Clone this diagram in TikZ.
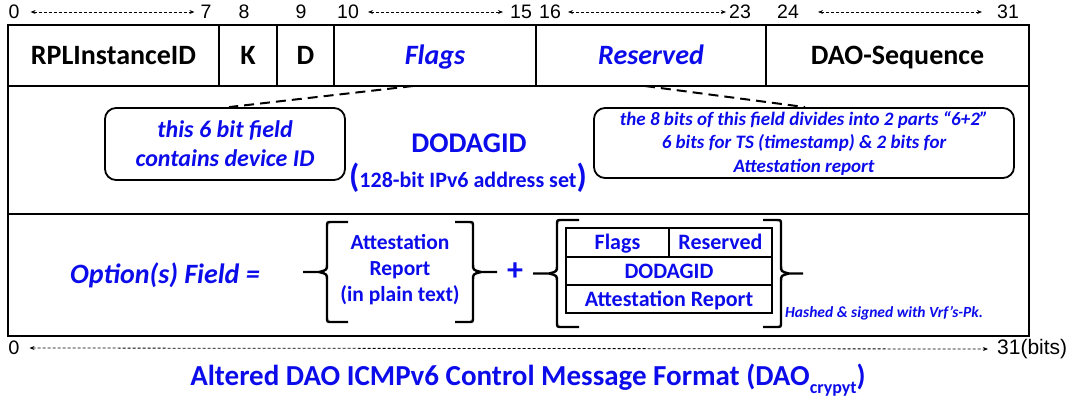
\documentclass[tikz,border=0pt]{standalone}
\usepackage{fontspec}
\setmainfont{Carlito}
\newfontfamily\arialf{Liberation Sans}
\usetikzlibrary{arrows.meta,calc}
\definecolor{tblue}{RGB}{12,12,235}
\newcommand\fs[1]{\fontsize{#1}{#1}\selectfont}
% curly bracket: #1 spine x, #2 top y, #3 bottom y, #4 hook end x, #5 tip x, #6 +1 (opens right) / -1 (opens left)
\newcommand\drawBrk[6]{%
  \draw[brk] (#4,#2) -- ({#1+5*#6},#2) .. controls (#1,#2) .. (#1,{#2+5})
     -- (#1,{(#2+#3)/2-8}) .. controls (#1,{(#2+#3)/2-2}) .. ({#1-8*#6},{(#2+#3)/2}) -- (#5,{(#2+#3)/2});
  \draw[brk] ({#1-8*#6},{(#2+#3)/2}) .. controls (#1,{(#2+#3)/2+2}) .. (#1,{(#2+#3)/2+8})
     -- (#1,{#3-5}) .. controls (#1,#3) .. ({#1+5*#6},#3) -- (#4,#3);
}
\begin{document}
\begin{tikzpicture}[x=1pt,y=-1pt,
  cell/.style={draw, line width=2.4pt, inner sep=0pt, outer sep=0pt, anchor=north west},
  hcell/.style={cell, minimum height=61pt, text height=18pt, text depth=0pt},
  sub/.style={draw, line width=2.8pt, inner sep=0pt, outer sep=0pt, anchor=north west,
              font=\bfseries\fs{22}, text=tblue, text height=14pt, text depth=0pt},
  hdr/.style={font=\bfseries\fs{28}},
  fld/.style={font=\bfseries\itshape\fs{28}, text=tblue},
  bitno/.style={font=\arialf\fs{19.5}, inner sep=0pt},
  bitarrow/.style={line width=0.8pt, dash pattern=on 3pt off 2pt,
                   {Stealth[length=5pt,width=4pt]}-{Stealth[length=5pt,width=4pt]}},
  callout/.style={draw, line width=1.8pt, rounded corners=11pt, inner sep=0pt,
                  align=center, text=tblue},
  lead/.style={line width=2pt, dash pattern=on 10pt off 6pt},
  brk/.style={line width=2.4pt},
  note/.style={font=\bfseries\fs{22}, text=tblue, align=center, inner sep=0pt}
]
\useasboundingbox (0,0) rectangle (1075,407);

% bit positions above the header row
\node[bitno] (t0)  at (14,12)   {0};
\node[bitno] (t7)  at (206,12)  {7};
\node[bitno] (t8)  at (244,12)  {8};
\node[bitno] (t9)  at (301,12)  {9};
\node[bitno] (t10) at (348,12)  {10};
\node[bitno] (t15) at (521,12)  {15};
\node[bitno] (t16) at (550,12)  {16};
\node[bitno] (t23) at (740,12)  {23};
\node[bitno] (t24) at (788,12)  {24};
\node[bitno] (t31) at (1008,12) {31};
\draw[bitarrow] ([xshift=11pt]t0.east)  -- ([xshift=-6pt]t7.west);
\draw[bitarrow] ([xshift=9pt]t10.east)  -- ([xshift=-7pt]t15.west);
\draw[bitarrow] ([xshift=7pt]t16.east)  -- ([xshift=-3pt]t23.west);
\draw[bitarrow] ([xshift=19pt]t24.east) -- ([xshift=-15pt]t31.west);

% header row
\node[hcell, hdr, minimum width=211pt] (rpl)   at (8,25)   {RPLInstanceID};
\node[hcell, hdr, minimum width=58pt]  (kf)    at (219,25) {K};
\node[hcell, hdr, minimum width=57pt]  (df)    at (277,25) {D};
\node[hcell, fld, minimum width=202pt] (flags) at (334,25) {Flags};
\node[hcell, fld, minimum width=230pt] (resv)  at (536,25) {Reserved};
\node[hcell, hdr, minimum width=263pt] (seq)   at (766,25) {DAO-Sequence};

% DODAGID row and options row
\node[cell, minimum width=1021pt, minimum height=128pt] (dodrow) at (8,86) {};
\node[cell, line width=2.8pt, minimum width=1021pt, minimum height=122pt] (optrow) at (8,214) {};

% DODAGID row contents
\node[callout, font=\bfseries\itshape\fontsize{24}{29}\selectfont,
      minimum width=240pt, minimum height=72pt] (callL) at (225,144)
      {this 6 bit field\\contains device ID};
\node[callout, font=\bfseries\itshape\fontsize{19}{23.5}\selectfont,
      minimum width=420pt, minimum height=70pt] (callR) at (804,143)
      {the 8 bits of this field divides into 2 parts “6+2”\\6 bits for TS (timestamp) \& 2 bits for\\Attestation report};
\node[font=\bfseries\fs{28.5}, text=tblue, inner sep=0pt] (dodagid) at (469,143) {DODAGID};
\node[font=\bfseries\fs{22}, text=tblue, inner sep=0pt] (ipv6) at (468,178)
      {{\fs{33}(}128-bit IPv6 address set{\fs{33})}};
\draw[lead] ([xshift=-22pt]flags.south) -- ([xshift=4pt]callL.north);
\draw[lead] ([xshift=-6pt]resv.south)   -- ([xshift=1pt]callR.north);

% options row contents
\node[fld, inner sep=0pt] (opt) at (165,275) {Option(s) Field =};
\drawBrk{327}{222}{322}{348}{303}{1}
\node[note, font=\bfseries\fontsize{21.5}{26}\selectfont] (plain) at (400,270)
      {Attestation\\Report\\(in plain text)};
\drawBrk{473}{222}{322}{455}{497}{-1}
\node[font=\bfseries\fs{32}, text=tblue, inner sep=0pt] (plus) at (515,272) {+};
\drawBrk{557}{220}{327}{579}{533}{1}
\node[sub, minimum width=103pt, minimum height=29pt] (sflags) at (566,228) {Flags};
\node[sub, minimum width=103pt, minimum height=29pt] (sresv)  at (669,228) {Reserved};
\node[sub, minimum width=206pt, minimum height=28pt] (sdod)   at (566,257) {DODAGID};
\node[sub, minimum width=206pt, minimum height=28pt] (satt)   at (566,285) {Attestation Report};
\drawBrk{781}{220}{327}{763}{803}{-1}
\node[font=\bfseries\itshape\fs{15.5}, text=tblue, anchor=west, inner sep=0pt] (hashed) at (785,313)
      {Hashed \& signed with Vrf’s-Pk.};

% overall bit range and caption
\node[font=\fs{21}, inner sep=0pt] (b0) at (14,348) {0};
\node[font=\arialf\fs{21}, anchor=west, inner sep=0pt] (b31) at (997,349) {31(bits)};
\draw[bitarrow] ([xshift=10pt]b0.east) -- ([xshift=-9pt]b31.west);
\node[font=\bfseries\fs{29}, text=tblue, anchor=base, inner sep=0pt] (title) at (528,385)
      {Altered DAO ICMPv6 Control Message Format (DAO\raisebox{-8pt}{\fs{18}crypyt})};
\end{tikzpicture}
\end{document}
